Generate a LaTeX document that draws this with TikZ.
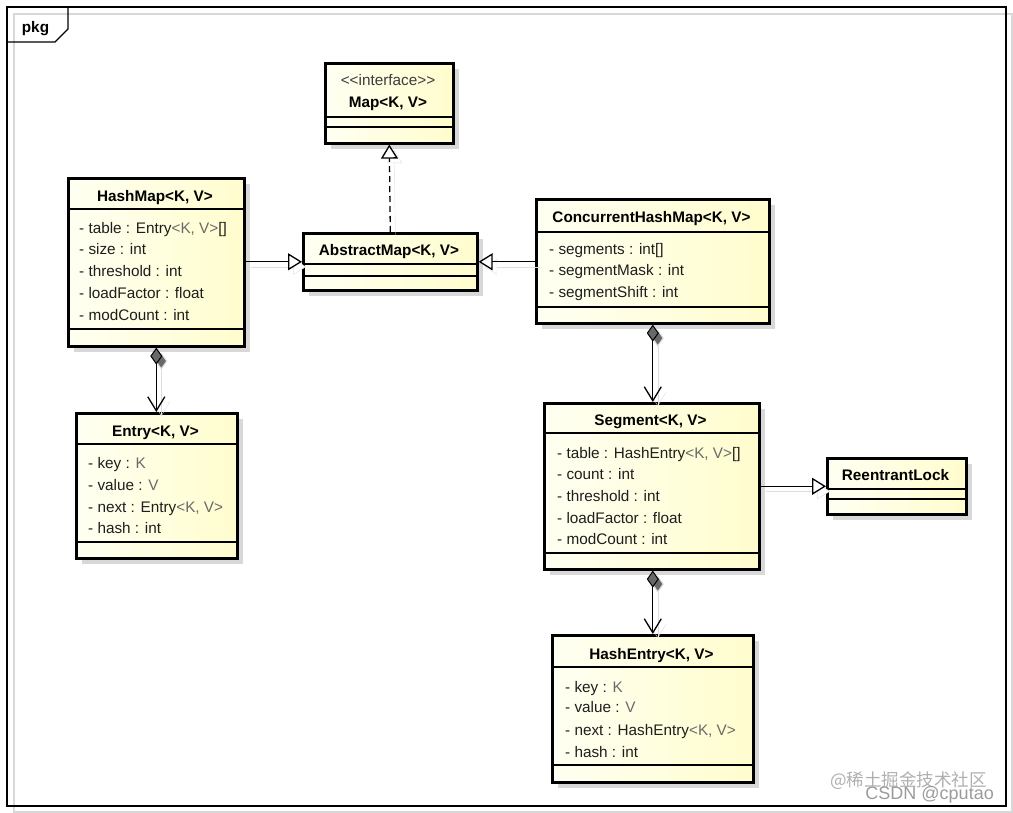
\documentclass[tikz,border=0pt]{standalone}
\usepackage{fontspec}
\setmainfont{Liberation Sans}
\newfontfamily\cjkfont{Noto Sans CJK SC}
\usetikzlibrary{arrows.meta,shadows}
\definecolor{boxA}{RGB}{255,255,242}
\definecolor{boxB}{RGB}{255,253,205}
\definecolor{shadowgray}{RGB}{216,216,216}
\definecolor{shadowline}{RGB}{222,222,222}
\definecolor{attrcol}{RGB}{30,30,30}
\definecolor{tpcol}{RGB}{105,105,105}
\definecolor{stereocol}{RGB}{60,60,60}
\definecolor{markA}{RGB}{175,175,175}
\definecolor{markB}{RGB}{155,155,155}
\definecolor{diamondgray}{RGB}{105,105,105}
\newcommand{\tp}[1]{\textcolor{tpcol}{#1}}
\newcommand{\classnode}[5]{%
  \pgfmathsetmacro\clsW{#4-#2}\pgfmathsetmacro\clsH{#5-#3}%
  \node[classbox, minimum width=\clsW pt, minimum height=\clsH pt] (#1) at (#2,#3) {};}
\tikzset{
  classbox/.style={draw=black, line width=2.6pt, left color=boxA, right color=boxB,
    inner sep=0pt, anchor=north west,
    drop shadow={shadow xshift=6pt, shadow yshift=-6pt, fill=shadowgray, opacity=1}},
  title/.style={font=\bfseries\fontsize{15.3}{18}\selectfont, anchor=base, inner sep=0pt},
  stereo/.style={font=\fontsize{15.3}{18}\selectfont, text=stereocol, anchor=base, inner sep=0pt},
  attr/.style={font=\fontsize{15.3}{18}\selectfont, text=attrcol, anchor=base west, inner sep=0pt},
  sep/.style={line width=1.2pt},
  conn/.style={line width=1.3pt, preaction={draw=shadowline, transform canvas={shift={(5pt,-5pt)}}}},
  gen/.style={conn, -{Triangle[open, length=14pt, width=17pt, fill=white, line width=1.3pt]}},
  realize/.style={gen, dash pattern=on 6pt off 4pt},
  comp/.style={conn, {Diamond[length=17pt, width=12pt, fill=diamondgray, line width=1pt]}-{Straight Barb[length=14pt, width=17pt, line width=1.3pt]}},
}
\begin{document}
\begin{tikzpicture}[x=1pt,y=-1pt]
\useasboundingbox (0,0) rectangle (1013,813);
% frame
\draw[shadowgray, line width=1.2pt] (14,14) rectangle (1012,812);
\draw[line width=1.3pt] (7,7) rectangle (1006,806);
\draw[line width=1.3pt] (7,42) -- (55,42) -- (68,29) -- (68,7);
\node[title] (pkg) at (35.5,33) {pkg};

% Map
\classnode{map}{324}{62}{452}{142}
\node[stereo] (map-s) at (388,86) {<\kern0pt<interface>\kern0pt>};
\node[title] (map-t) at (388,108) {Map<K, V>};
\draw[sep] (324,117) -- (452,117);
\draw[sep] (324,127) -- (452,127);

% AbstractMap
\classnode{abstract}{302}{232}{476}{289}
\node[title] (abstract-t) at (389,256) {AbstractMap<K, V>};
\draw[sep] (302,264) -- (476,264);
\draw[sep] (302,276) -- (476,276);

% HashMap
\classnode{hashmap}{67}{177}{243}{345}
\node[title] (hashmap-t) at (155,202) {HashMap<K, V>};
\draw[sep] (67,209) -- (243,209);
\node[attr] (hm1) at (79,234) {- table : Entry\tp{<K, V>}[]};
\node[attr] (hm2) at (79,255) {- size : int};
\node[attr] (hm3) at (79,277) {- threshold : int};
\node[attr] (hm4) at (79,299) {- loadFactor : float};
\node[attr] (hm5) at (79,321) {- modCount : int};
\draw[sep] (67,329) -- (243,329);

% Entry
\classnode{entry}{75}{412}{236}{557}
\node[title] (entry-t) at (155.5,436) {Entry<K, V>};
\draw[sep] (75,444) -- (236,444);
\node[attr] (en1) at (88,468) {- key : \tp{K}};
\node[attr] (en2) at (88,490) {- value : \tp{V}};
\node[attr] (en3) at (88,512) {- next : Entry\tp{<K, V>}};
\node[attr] (en4) at (88,533) {- hash : int};
\draw[sep] (75,542) -- (236,542);

% ConcurrentHashMap
\classnode{chm}{535}{198}{768}{322}
\node[title] (chm-t) at (651.5,223) {ConcurrentHashMap<K, V>};
\draw[sep] (535,232) -- (768,232);
\node[attr] (ch1) at (549,255) {- segments : int[]};
\node[attr] (ch2) at (549,276) {- segmentMask : int};
\node[attr] (ch3) at (549,298) {- segmentShift : int};
\draw[sep] (535,307) -- (768,307);

% Segment
\classnode{segment}{543}{402}{758}{568}
\node[title] (segment-t) at (650.5,425) {Segment<K, V>};
\draw[sep] (543,433) -- (758,433);
\node[attr] (sg1) at (557,458) {- table : HashEntry\tp{<K, V>}[]};
\node[attr] (sg2) at (557,479) {- count : int};
\node[attr] (sg3) at (557,501) {- threshold : int};
\node[attr] (sg4) at (557,523) {- loadFactor : float};
\node[attr] (sg5) at (557,544) {- modCount : int};
\draw[sep] (543,553) -- (758,553);

% ReentrantLock
\classnode{lock}{826}{457}{965}{513}
\node[title] (lock-t) at (895.5,480) {ReentrantLock};
\draw[sep] (826,489) -- (965,489);
\draw[sep] (826,499) -- (965,499);

% HashEntry
\classnode{hashentry}{551}{634}{752}{781}
\node[title] (hashentry-t) at (651.5,659) {HashEntry<K, V>};
\draw[sep] (551,667) -- (752,667);
\node[attr] (he1) at (565,692) {- key : \tp{K}};
\node[attr] (he2) at (565,712) {- value : \tp{V}};
\node[attr] (he3) at (565,735) {- next : HashEntry\tp{<K, V>}};
\node[attr] (he4) at (565,757) {- hash : int};
\draw[sep] (551,765) -- (752,765);

% connectors
\draw[realize] (abstract.north) -- (map.south);
\draw[gen] (hashmap.east |- abstract.west) -- (abstract.west);
\draw[gen] (chm.west |- abstract.east) -- (abstract.east);
\draw[gen] (segment.east) -- (lock.west);
\draw[comp] (hashmap.south) -- (hashmap.south |- entry.north);
\draw[comp] (chm.south) -- (chm.south |- segment.north);
\draw[comp] (segment.south -| chm.south) -- (chm.south |- hashentry.north);

% watermark
\node[font=\cjkfont\fontsize{17.5}{20}\selectfont, text=markA, anchor=base east, inner sep=0pt] (wm1) at (987,786) {@稀土掘金技术社区};
\node[font=\fontsize{18}{20}\selectfont, text=markB, anchor=base east, inner sep=0pt] (wm2) at (994,799) {CSDN @cputao};
\end{tikzpicture}
\end{document}
